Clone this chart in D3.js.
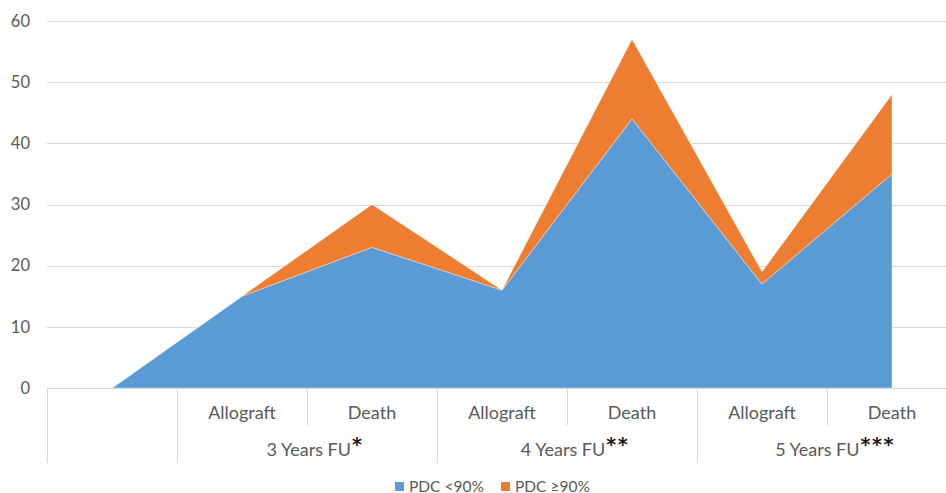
<!DOCTYPE html>
<html>
<head>
<meta charset="utf-8">
<script src="https://cdn.jsdelivr.net/npm/d3@7"></script>
<style>
  html, body { margin: 0; padding: 0; background: #fff; }
  svg { display: block; font-family: Lato, "Open Sans", sans-serif; }
</style>
</head>
<body>
<svg id="chart" width="946" height="493"></svg>
<script>
// Follow-up groups and outcomes along the category axis (first slot left blank)
const groups = ["3 Years FU", "4 Years FU", "5 Years FU"];
const groupMarks = ["*", "**", "***"];
const outcomes = ["Allograft", "Death"];
const categories = ["", "Allograft", "Death", "Allograft", "Death", "Allograft", "Death"];

// Patient counts per adherence class
const pdcLow = [0, 15, 23, 16, 44, 17, 35];   // PDC <90%
const pdcHigh = [0, 0, 7, 0, 13, 2, 13];      // PDC ≥90%
const seriesNames = ["PDC <90%", "PDC ≥90%"];
const seriesColors = ["#5B9BD5", "#ED7D31"];

const yTicks = [0, 10, 20, 30, 40, 50, 60];

const svg = d3.select("#chart");
const plotLeft = 47, plotRight = 957, plotTop = 21, plotBottom = 388;
const bandW = (plotRight - plotLeft) / categories.length;

const x = d3.scalePoint().domain(d3.range(categories.length)).range([plotLeft, plotRight]).padding(0.5);
const y = d3.scaleLinear().domain([0, 60]).range([plotBottom, plotTop]);

// horizontal gridlines
svg.append("g").selectAll("line").data(yTicks.filter(d => d > 0)).join("line")
  .attr("x1", plotLeft).attr("x2", 946)
  .attr("y1", d => Math.round(y(d)) + 0.5).attr("y2", d => Math.round(y(d)) + 0.5)
  .attr("stroke", "#d9d9d9").attr("stroke-width", 1.2);

// stacked areas
const rows = categories.map((c, i) => ({ i, low: pdcLow[i], high: pdcHigh[i] }));
const stack = d3.stack().keys(["low", "high"]);
const layers = stack(rows);
const area = d3.area()
  .x(d => x(d.data.i))
  .y0(d => y(d[0]))
  .y1(d => y(d[1]));

svg.append("g").selectAll("path").data(layers).join("path")
  .attr("d", area)
  .attr("fill", (d, i) => seriesColors[i])
  .attr("stroke", "rgba(255,255,255,0.45)")
  .attr("stroke-width", 0.8)
  .attr("stroke-linejoin", "round");

// y axis labels
const yAxis = d3.axisLeft(y).tickValues(yTicks).tickSize(0).tickPadding(17);
const gy = svg.append("g").attr("transform", `translate(${plotLeft},0)`).call(yAxis);
gy.select(".domain").remove();
gy.selectAll("text").attr("font-size", 16.5).attr("fill", "#595959")
  .attr("font-family", "Lato, 'Open Sans', sans-serif");

// category axis baseline
svg.append("line").attr("x1", plotLeft).attr("x2", 946)
  .attr("y1", plotBottom + 0.5).attr("y2", plotBottom + 0.5)
  .attr("stroke", "#d9d9d9").attr("stroke-width", 1.2);

// category dividers: tall between groups, short between outcomes
const axisG = svg.append("g");
for (let k = 0; k <= categories.length; k++) {
  const xd = Math.round(plotLeft + k * bandW) + 0.5;
  const isGroupEdge = (k === 0 || k === 1 || (k - 1) % outcomes.length === 0);
  if (xd > 946) continue;
  axisG.append("line")
    .attr("x1", xd).attr("x2", xd)
    .attr("y1", plotBottom).attr("y2", isGroupEdge ? 463 : 425)
    .attr("stroke", "#d9d9d9").attr("stroke-width", 1.2);
}

// outcome labels
axisG.selectAll("text.cat").data(categories.map((c, i) => ({ c, i })).filter(d => d.c)).join("text")
  .attr("class", "cat")
  .attr("x", d => x(d.i)).attr("y", 419)
  .attr("text-anchor", "middle")
  .attr("font-size", 18).attr("fill", "#595959")
  .text(d => d.c);

// group labels with significance marks
groups.forEach((g, gi) => {
  const cx = plotLeft + (1 + gi * outcomes.length + outcomes.length / 2) * bandW;
  const t = axisG.append("text")
    .attr("x", cx + 8).attr("y", 456)
    .attr("text-anchor", "middle")
    .attr("font-size", 18).attr("fill", "#595959");
  t.append("tspan").text(g);
  t.append("tspan").text(groupMarks[gi])
    .attr("dy", -5)
    .attr("dx", 1)
    .attr("font-family", "'DejaVu Sans', sans-serif")
    .attr("font-weight", "bold")
    .attr("font-size", 19).attr("fill", "#1a1a1a")
    .attr("letter-spacing", 1.5);
});

// legend
const legend = svg.append("g");
const legendX = [395, 501];
seriesNames.forEach((name, i) => {
  legend.append("rect").attr("x", legendX[i]).attr("y", 482)
    .attr("width", 9).attr("height", 9).attr("fill", seriesColors[i]);
  legend.append("text").attr("x", legendX[i] + 14).attr("y", 491.5)
    .attr("font-size", 15.5).attr("fill", "#595959").text(name);
});
</script>
</body>
</html>
